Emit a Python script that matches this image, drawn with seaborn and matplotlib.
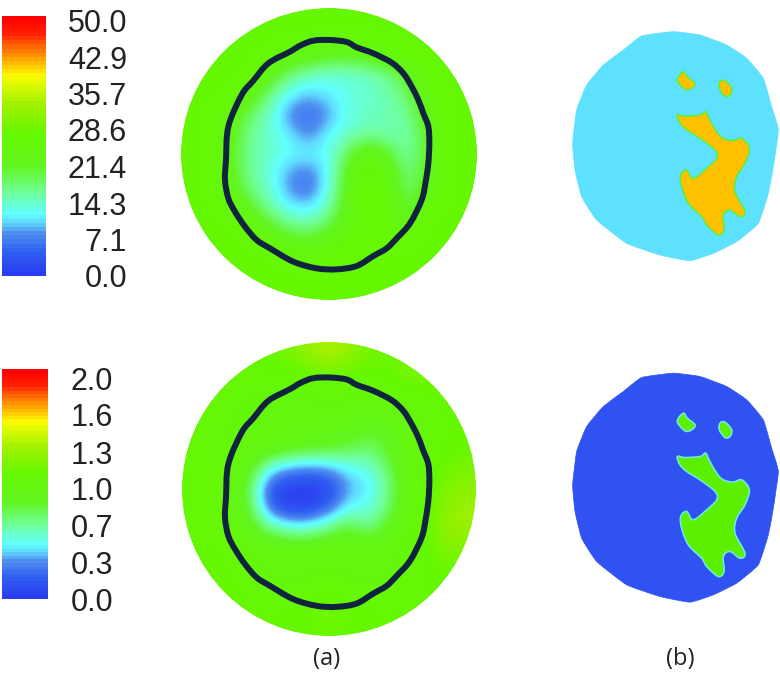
import numpy as np
import matplotlib
matplotlib.use("Agg")
import matplotlib.pyplot as plt
import seaborn as sns
from matplotlib.colors import LinearSegmentedColormap
from matplotlib.path import Path
from matplotlib.patches import PathPatch, Ellipse

# ---------- data ----------
top_labels = ["50.0", "42.9", "35.7", "28.6", "21.4", "14.3", "7.1", "0.0"]
top_label_y = [24, 61, 97, 133, 170, 207, 243, 279]
bot_labels = ["2.0", "1.6", "1.3", "1.0", "0.7", "0.3", "0.0"]
bot_label_y = [382, 418, 456, 492, 529, 566, 603]
panel_labels = ["(a)", "(b)"]

color_stops = [(0.00, "#2a3cf0"), (0.09, "#3060f0"), (0.16, "#5090f0"), (0.20, "#60d8ff"),
               (0.235, "#62ffff"), (0.32, "#70ff9a"), (0.42, "#62f520"), (0.55, "#66f800"),
               (0.66, "#a0f000"), (0.715, "#c8f800"), (0.775, "#fdfc00"), (0.82, "#ffc000"),
               (0.895, "#ff6000"), (0.935, "#ff2000"), (1.00, "#ff0000")]

# field values, 15 x 15 coarse grid
top_field = [
 [27,27,27,27,27,27,27,27,27,27,27,27,27,27,27],
 [27,27,27,27,27,27,27,27,27,27,27,27,27,27,27],
 [27,27,27,27,27,24,23,21,21,22,25,27,27,27,27],
 [27,27,27,27,22,17,14,13,13,14,16,21,27,27,27],
 [27,27,27,23,17,11, 9,11,13,14,15,18,25,27,27],
 [27,27,24,18,14, 7, 5, 8,13,14,15,16,23,27,27],
 [27,27,22,16,14,11, 7,12,14,16,15,15,21,27,27],
 [27,27,22,16,14,12,12,12,20,25,21,15,21,27,27],
 [27,27,22,16,13, 8, 6,12,23,27,25,16,22,27,27],
 [27,27,23,18,14, 8, 6,13,24,27,26,17,24,27,27],
 [27,27,27,22,17,13,12,16,24,27,26,20,27,27,27],
 [27,27,27,27,23,19,18,21,25,27,26,26,27,27,27],
 [27,27,27,27,27,26,25,26,27,27,27,27,27,27,27],
 [27,27,27,27,27,27,27,27,27,27,27,27,27,27,27],
 [27,27,27,27,27,27,27,27,27,27,27,27,27,27,27],
]
bot_field = [
 [1.10,1.10,1.10,1.10,1.12,1.18,1.28,1.38,1.28,1.15,1.12,1.15,1.12,1.10,1.10],
 [1.10,1.08,1.08,1.08,1.08,1.08,1.12,1.18,1.12,1.10,1.10,1.20,1.18,1.12,1.10],
 [1.10,1.08,1.05,1.02,1.00,1.00,1.02,1.02,1.02,1.02,1.02,1.05,1.08,1.12,1.10],
 [1.10,1.05,1.02,1.00,1.00,0.95,1.00,1.00,1.00,0.98,0.98,1.00,1.02,1.08,1.10],
 [1.08,1.05,1.00,1.00,1.00,1.00,0.98,0.96,0.90,0.84,0.85,1.00,1.02,1.08,1.10],
 [1.08,1.05,1.00,1.00,0.95,0.90,0.85,0.82,0.78,0.70,0.85,1.00,1.02,1.08,1.12],
 [1.08,1.05,1.00,0.90,0.45,0.30,0.25,0.30,0.45,0.50,0.70,1.00,1.02,1.15,1.18],
 [1.08,1.05,1.00,0.75,0.10,0.00,0.00,0.05,0.35,0.42,0.65,1.00,1.05,1.20,1.25],
 [1.08,1.05,1.00,0.82,0.20,0.03,0.05,0.20,0.50,0.50,0.70,1.00,1.08,1.25,1.30],
 [1.08,1.05,1.00,0.92,0.70,0.55,0.55,0.70,0.85,0.65,0.88,1.00,1.08,1.28,1.30],
 [1.08,1.08,1.05,1.00,1.00,0.98,0.98,1.00,1.00,0.98,1.00,1.02,1.08,1.22,1.18],
 [1.12,1.12,1.05,1.02,1.00,1.00,1.00,1.00,1.00,1.00,1.00,1.02,1.10,1.12,1.10],
 [1.12,1.12,1.10,1.05,1.02,1.00,1.02,1.05,1.02,1.00,1.02,1.05,1.08,1.08,1.08],
 [1.10,1.10,1.10,1.08,1.08,1.08,1.10,1.15,1.12,1.08,1.08,1.08,1.08,1.08,1.08],
 [1.10,1.10,1.10,1.08,1.08,1.08,1.10,1.12,1.10,1.08,1.08,1.08,1.08,1.08,1.08],
]

# dark contour in zoom-crop units (3x)
contour_x = [400,450,500,530,580,635,670,695,715,730,745,748,745,737,725,690,650,620,580,530,470,410,340,270,230,195,165,145,135,138,145,185,220,265,330,362]
contour_y = [92,90,96,112,130,158,190,230,270,310,350,400,460,515,570,640,685,715,738,768,778,775,755,715,690,650,605,565,510,450,350,255,212,160,125,106]

# region outlines of panels (b) in zoom-crop units (3x)
disc_x = [245,340,420,500,560,610,635,655,640,625,595,530,460,390,300,200,110,65,45,38,50,80,130,190]
disc_y = [48,35,45,75,115,175,260,330,440,520,610,665,700,722,705,670,600,530,450,370,270,195,135,90]
main_x = [352,375,420,437,447,470,490,520,545,568,555,530,525,555,540,510,490,492,475,440,425,385,365,362,380,400,440,470,465,420,380,360]
main_y = [285,288,285,275,295,335,355,362,355,385,430,470,515,575,590,570,585,630,645,615,590,550,500,465,450,475,445,415,390,355,330,310]
isle1_x = [370,382,405,395,375,352]
isle1_y = [155,170,190,205,208,180]
isle2_x = [480,495,515,510,495,478]
isle2_y = [185,182,205,225,228,205]

# ---------- figure ----------
W, H = 780, 673
sns.set_theme(style="white")
plt.rcParams["font.family"] = ["Liberation Sans", "DejaVu Sans"]
fig = plt.figure(figsize=(W / 100, H / 100), dpi=100)
cmap = LinearSegmentedColormap.from_list("rb", color_stops, N=64)

canvas = fig.add_axes([0, 0, 1, 1])
canvas.axis("off")


def colorbar(x0, x1, y0, y1, vmax):
    ax = fig.add_axes([x0 / W, 1 - y1 / H, (x1 - x0) / W, (y1 - y0) / H])
    levels = np.linspace(vmax, 0, 64).reshape(-1, 1)
    sns.heatmap(levels, ax=ax, cmap=cmap, vmin=0, vmax=vmax, cbar=False,
                xticklabels=False, yticklabels=False)


colorbar(2, 46, 16, 276, 50)
colorbar(2, 48, 369, 599, 2)
for s, y in zip(top_labels, top_label_y):
    canvas.text(127, y, s, ha="right", va="center", fontsize=22, color="#222222")
for s, y in zip(bot_labels, bot_label_y):
    canvas.text(113, y, s, ha="right", va="center", fontsize=22, color="#222222")
canvas.text(327, 659, panel_labels[0], ha="center", va="center", fontsize=17,
            family="Open Sans", color="#222222")
canvas.text(680, 659, panel_labels[1], ha="center", va="center", fontsize=17,
            family="Open Sans", color="#222222")


def smooth(xs, ys, ox, oy, tension=1.0):
    p = np.c_[np.array(xs) / 3 + ox, np.array(ys) / 3 + oy]
    n = len(p)
    verts = [p[0]]
    codes = [Path.MOVETO]
    for i in range(n):
        a, b, c, d = p[i - 1], p[i], p[(i + 1) % n], p[(i + 2) % n]
        verts += [b + tension * (c - a) / 6, c - tension * (d - b) / 6, c]
        codes += [Path.CURVE4] * 3
    return Path(verts, codes)


def field(values, vmax, cx, cy, rx, ry, ox, oy):
    im = canvas.imshow(values, cmap=LinearSegmentedColormap.from_list("s", color_stops, N=256),
                       vmin=0, vmax=vmax, interpolation="bicubic",
                       extent=(cx - rx, cx + rx, cy + ry, cy - ry), aspect="auto", zorder=1)
    clip = Ellipse((cx, cy), 2 * rx, 2 * ry, transform=canvas.transData)
    im.set_clip_path(clip)
    ring = Ellipse((cx, cy), 2 * rx + 3, 2 * ry + 3, fill=False, ec="white", lw=2, zorder=2)
    canvas.add_patch(ring)
    canvas.add_patch(PathPatch(smooth(contour_x, contour_y, ox, oy), fc="none", ec="#10243f",
                               lw=4.3, joinstyle="round", zorder=3))


def regions(ox, oy, bg, fg, edge):
    canvas.add_patch(PathPatch(smooth(disc_x, disc_y, ox, oy, tension=0.4), fc=bg, ec=bg, lw=0.5, zorder=1))
    for xs, ys in ((main_x, main_y), (isle1_x, isle1_y), (isle2_x, isle2_y)):
        canvas.add_patch(PathPatch(smooth(xs, ys, ox, oy), fc=fg, ec=edge, lw=1.2, zorder=2))


canvas.set_xlim(0, W)
canvas.set_ylim(H, 0)
field(top_field, 50, 329, 154, 148, 146, 180, 10)
field(bot_field, 2, 329, 489, 147, 147, 180, 347.5)
regions(560, 20, "#5ee0ff", "#ffc000", "#60f040")
regions(560, 361.5, "#2f52f0", "#5cf000", "#70e8e0")
canvas.set_xlim(0, W)
canvas.set_ylim(H, 0)

fig.savefig("out.png", dpi=100)
